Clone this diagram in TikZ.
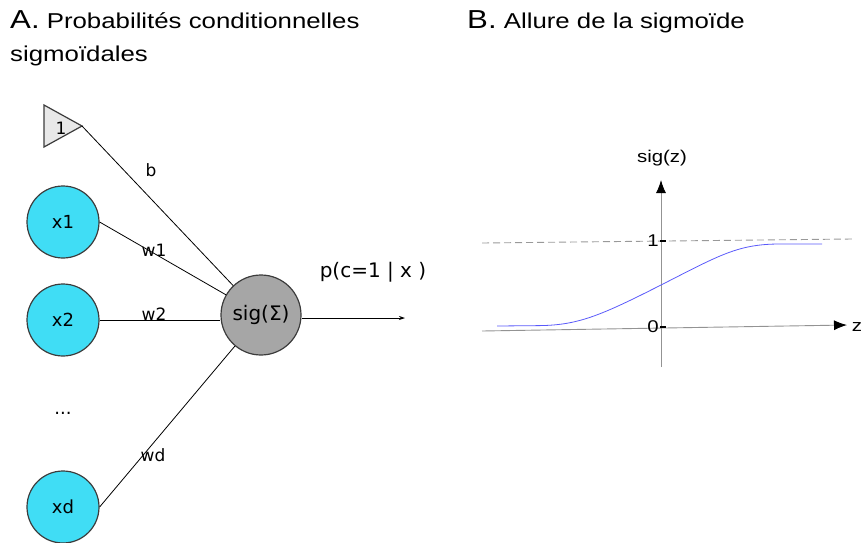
\documentclass[tikz,border=0pt]{standalone}
\usepackage{fontspec}
\setmainfont{Liberation Sans}
\newfontfamily\widesans{Liberation Sans}[FakeStretch=1.2]
\newfontfamily\djv{DejaVu Sans}
\usetikzlibrary{arrows.meta}
\definecolor{inputcyan}{RGB}{64,221,245}
\definecolor{neurongray}{RGB}{166,166,166}
\definecolor{rimgray}{RGB}{60,60,60}
\definecolor{curveblue}{RGB}{90,90,250}
\begin{document}
\begin{tikzpicture}[x=1pt,y=-1pt,
  inputnode/.style={circle, draw=rimgray, line width=1.2pt, fill=inputcyan,
    minimum size=72pt, inner sep=0pt, font=\djv\fontsize{18}{20}\selectfont},
  neuron/.style={circle, draw=rimgray, line width=1.2pt, fill=neurongray,
    minimum size=80pt, inner sep=0pt, font=\djv\fontsize{20}{22}\selectfont},
  wlabel/.style={font=\djv\fontsize{17}{19}\selectfont, inner sep=0pt},
  link/.style={line width=0.8pt},
  axisline/.style={draw=gray!85, line width=0.9pt},
  plotlabel/.style={font=\widesans\fontsize{17}{19}\selectfont, inner sep=0pt},
  titlefont/.style={font=\widesans\fontsize{21.5}{24}\selectfont, anchor=base west, inner sep=0pt}
]
\useasboundingbox (0,0) rectangle (865,542);

% titles
\node[titlefont] (titleA) at (10,28) {{\fontsize{26}{26}\selectfont A.} Probabilités conditionnelles};
\node[titlefont] (titleA2) at (10,61) {sigmoïdales};
\node[titlefont] (titleB) at (467,28) {{\fontsize{26}{26}\selectfont B.} Allure de la sigmoïde};

% bias input
\coordinate (tA) at (44,105);
\coordinate (tB) at (44,147);
\coordinate (tip) at (82,126);
\filldraw[fill=gray!18, draw=rimgray, line width=1.2pt] (tA) -- (tip) -- (tB) -- cycle;
\node[font=\djv\fontsize{17}{19}\selectfont, inner sep=0pt] (one) at (61,128) {1};

% inputs and neuron
\node[inputnode] (x1) at (63,222) {x1};
\node[inputnode] (x2) at (63,320) {x2};
\node[inputnode] (xd) at (63,507) {xd};
\node[font=\djv\fontsize{18}{20}\selectfont, inner sep=0pt, anchor=base] (dots) at (63,414) {...};
\node[neuron] (sig) at (261,315) {sig(Σ)};

\draw[link] (tip) -- (sig);
\draw[link] (x1.east) -- (sig);
\draw[link] (x2.east) -- (x2.east -| sig.west);
\draw[link] (xd.east) -- (sig);

\node[wlabel] (lb) at (151,170) {b};
\node[wlabel] (lw1) at (154,250) {w1};
\node[wlabel] (lw2) at (154,314) {w2};
\node[wlabel] (lwd) at (153,455) {wd};

% output
\coordinate (outend) at (405,318);
\draw[link, -{Stealth[length=6pt,width=4pt]}] (outend -| sig.east) -- (outend);
\node[font=\djv\fontsize{20}{22}\selectfont, inner sep=0pt] (pout) at (373,272) {p(c=1 | x )};

% sigmoid plot
\coordinate (yb) at (661,367);
\coordinate (yt) at (661,180);
\coordinate (xl) at (482,331);
\coordinate (xr) at (847,325);
\draw[axisline, -{Latex[length=13pt,width=10pt,color=black,fill=black]}] (yb) -- (yt);
\draw[axisline, -{Latex[length=13pt,width=10pt,color=black,fill=black]}] (xl) -- (xr);
\coordinate (dl) at (482,243);
\coordinate (dr) at (852,239);
\draw[gray!80, line width=0.9pt, dash pattern=on 7pt off 4pt] (dl) -- (dr);
\draw[black, line width=1.2pt] (660,241) -- (666,241);
\draw[black, line width=1.2pt] (660,327) -- (666,327);
\node[plotlabel] (one1) at (653,241) {1};
\node[plotlabel] (zero) at (653,327) {0};
\node[plotlabel] (sigz) at (662,158) {sig(z)};
\node[plotlabel] (zlab) at (857,327) {z};
\draw[curveblue, line width=0.8pt] (497,326) -- (540,325.6)
  .. controls (578,325) and (600,316) .. (661,285)
  .. controls (720,255) and (738,244) .. (780,244) -- (822,244);
\end{tikzpicture}
\end{document}
